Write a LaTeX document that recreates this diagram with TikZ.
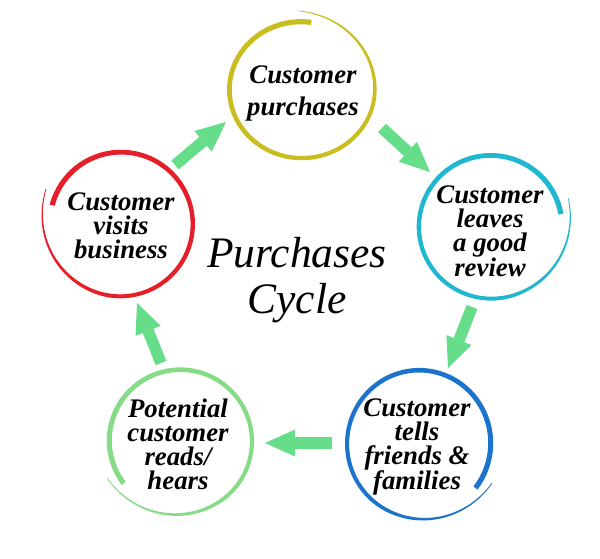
\documentclass[tikz,border=0pt]{standalone}
\usepackage{fontspec}
\setmainfont{Liberation Serif}
\usetikzlibrary{arrows.meta}
\definecolor{cyel}{HTML}{C9BD1F}
\definecolor{ccya}{HTML}{1FB8D0}
\definecolor{cblu}{HTML}{1A73CD}
\definecolor{cgrn}{HTML}{86DB86}
\definecolor{cred}{HTML}{E61E28}
\definecolor{carr}{HTML}{66DD88}
% brush ring: cx cy rx ry startangle sweep colour
\newcommand{\brushring}[7]{%
  \fill[#7] plot[domain=0:1,samples=180,variable=\q]
   ({#1+(#3*rf(\q)+wf(\q)/2)*cos(#5+(#6)*\q)},{#2-(#4*rf(\q)+wf(\q)/2)*sin(#5+(#6)*\q)})
   -- plot[domain=1:0,samples=180,variable=\q]
   ({#1+(#3*rf(\q)-wf(\q)/2)*cos(#5+(#6)*\q)},{#2-(#4*rf(\q)-wf(\q)/2)*sin(#5+(#6)*\q)})
   -- cycle;}
\begin{document}
\begin{tikzpicture}[x=1pt,y=-1pt,
  declare function={tl(\q)=max(0,(\q-0.75)*4);
    rf(\q)=0.965+0.035*\q+0.12*tl(\q)*tl(\q);
    wf(\q)=5.2-1.8*\q-9.5*max(0,\q-0.72);},
  lbl/.style={align=center,font=\bfseries\itshape\fontsize{26.8}{24}\selectfont},
  ttl/.style={align=center,font=\itshape\fontsize{43.5}{46}\selectfont},
  arr/.style={draw=carr,line width=11.5pt,-{Triangle[width=27pt,length=30pt,line width=0pt]}}]
\fill[white] (0,0) rectangle (600,558);
\useasboundingbox (0,0) rectangle (600,558);
% rings
\brushring{301.5}{89.3}{74}{70}{82}{370}{cyel}
\brushring{491}{226.4}{73.5}{73}{10}{370}{ccya}
\brushring{419.5}{443.5}{73.5}{75}{-38}{370}{cblu}
\brushring{180}{441}{73}{73}{217}{-370}{cgrn}
\brushring{120.7}{223.6}{73.5}{73.5}{165}{-370}{cred}
% labels
\node[lbl,font=\bfseries\itshape\fontsize{26.8}{32}\selectfont] (n1) at (303,93) {Customer\\purchases};
\node[lbl] (n2) at (490,231) {Customer\\leaves\\a good\\review};
\node[lbl] (n3) at (417,447) {Customer\\tells\\friends \&\\families};
\node[lbl] (n4) at (178,444) {Potential\\customer\\reads/\\hears};
\node[lbl] (n5) at (121,226) {Customer\\visits\\business};
\node[ttl] (t) at (297,280) {Purchases\\Cycle};
% arrow ends
\coordinate (a1s) at (175,165); \coordinate (a1e) at (226,122);
\coordinate (a2s) at (382,128); \coordinate (a2e) at (430,172);
\coordinate (a3s) at (472,307); \coordinate (a3e) at (448,368);
\coordinate (a4s) at (332,443); \coordinate (a4e) at (265,443);
\coordinate (a5s) at (161,363); \coordinate (a5e) at (137,303);
\draw[arr] (a1s) -- (a1e);
\draw[arr] (a2s) -- (a2e);
\draw[arr] (a3s) -- (a3e);
\draw[arr] (a4s) -- (a4e);
\draw[arr] (a5s) -- (a5e);
\end{tikzpicture}
\end{document}
